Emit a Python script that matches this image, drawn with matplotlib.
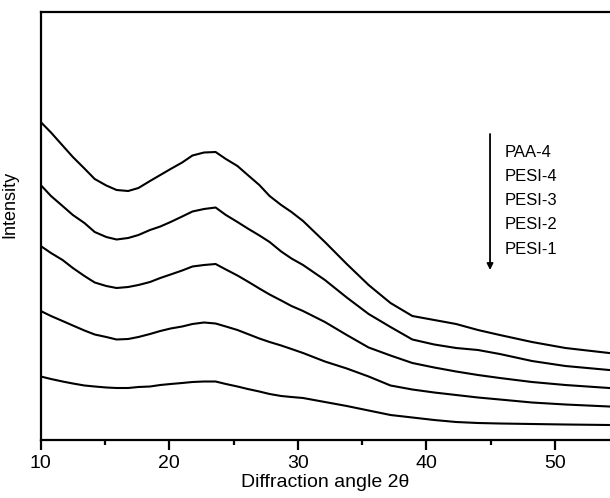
"""
 XRD patterns of PAA-4 and PESI films
"""
import matplotlib
matplotlib.use('Agg')
import matplotlib.pyplot as plt
from matplotlib.ticker import MultipleLocator

plt.rcParams['font.family'] = ['Liberation Sans', 'DejaVu Sans']

# diffraction angle, degrees
two_theta = [10.0, 10.8, 11.7, 12.5, 13.4, 14.2, 15.1, 15.9, 16.8, 17.6, 18.5,
             19.3, 20.1, 21.0, 21.8, 22.7, 23.6, 24.4, 25.3, 26.1, 27.0, 27.8,
             28.7, 29.5, 30.4, 32.1, 33.8, 35.5, 37.2, 38.9, 40.6, 42.3, 44.0,
             45.7, 48.2, 50.8, 54.2]

# intensities (arbitrary units, curves already stacked)
paa_4 = [318, 307.5, 294.5, 283, 271.5, 261, 254.5, 250, 249, 252, 259, 265,
         271, 277.5, 284.5, 287.5, 288, 281, 274, 265, 255, 244, 235, 228,
         219, 198, 176, 155, 137, 124, 120, 116, 110, 105, 98, 92, 87]
pesi_4 = [255, 244, 234, 225, 217, 208, 203, 200.5, 202, 205, 210, 213.5, 218,
          223.5, 228.5, 231, 232.5, 225, 218, 211.5, 204.6, 198, 188.5, 181.5,
          175, 160, 142.5, 126, 113, 100.5, 95.5, 92, 90, 86, 79, 74, 70]
pesi_3 = [194, 187, 180, 172, 164, 157.5, 154, 152, 153, 155, 158, 162, 165.5,
          169.5, 173.5, 175, 176, 170.5, 164.5, 158.5, 151.5, 145.5, 139.5,
          134, 129, 118, 105, 92.5, 84.5, 77, 72.5, 68.5, 65, 62, 58, 55, 52]
pesi_2 = [129, 124, 119, 114.5, 109.5, 105.5, 103, 100.5, 101, 103, 106, 109,
          111.5, 113.5, 116, 117.5, 116.5, 113.5, 110, 106, 101.5, 98, 94.5,
          91, 87, 78.5, 71.5, 63.5, 54.5, 50.5, 47.5, 45, 42.5, 40.5, 37.5,
          35.5, 33.5]
pesi_1 = [63.5, 61, 58.5, 56.5, 54.5, 53.5, 52.5, 52, 52, 53, 53.5, 55, 56, 57,
          58, 58.5, 58.5, 56, 53.5, 51, 48.5, 46, 44, 43, 42, 38, 34, 29.5, 25,
          22.5, 20, 18, 17, 16.5, 16, 15.5, 15]

series = [paa_4, pesi_4, pesi_3, pesi_2, pesi_1]
labels = ['PAA-4', 'PESI-4', 'PESI-3', 'PESI-2', 'PESI-1']

fig = plt.figure(figsize=(6.1, 4.98), dpi=100)
ax = fig.add_axes([40.7 / 610, 58 / 498, 569.3 / 610, 428 / 498])

for ys in series:
    ax.plot(two_theta, ys, color='black', lw=1.5)

ax.set_xlim(10, 10 + 569.3 / 12.86)
ax.set_ylim(0, 428)

ax.spines['right'].set_visible(False)
for side in ['left', 'top', 'bottom']:
    ax.spines[side].set_linewidth(1.6)

ax.xaxis.set_major_locator(MultipleLocator(10))
ax.xaxis.set_minor_locator(MultipleLocator(5))
ax.tick_params(axis='x', which='major', direction='out', length=7, width=1.6,
               pad=4, labelsize=14)
ax.tick_params(axis='x', which='minor', direction='out', length=3.5, width=1.6)
ax.set_yticks([])

ax.set_xlabel('Diffraction angle 2\u03b8', fontsize=14, labelpad=1)
ax.set_ylabel('Intensity', fontsize=13)
ax.yaxis.set_label_coords(-0.04, 0.55)

# arrow + sample list
ax.annotate('', xy=(44.94, 170), xytext=(44.94, 306),
            arrowprops=dict(arrowstyle='-|>', color='black', lw=1.3,
                            mutation_scale=9, shrinkA=0, shrinkB=0))
for i, name in enumerate(labels):
    ax.text(46.1, 288 - i * 24.3, name, fontsize=12, va='center', ha='left')

fig.savefig('out.png', dpi=100)
